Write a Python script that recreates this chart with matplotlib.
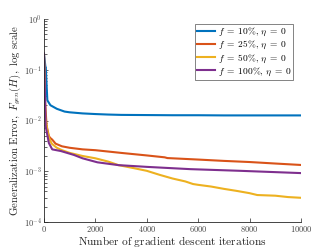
import numpy as np
import matplotlib
matplotlib.use("Agg")
import matplotlib.pyplot as plt
from matplotlib.ticker import FixedLocator, FuncFormatter, LogLocator, NullFormatter

plt.rcParams['mathtext.fontset'] = 'cm'
plt.rcParams['font.family'] = ['DejaVu Serif']

# ---- data ----
it_blue = [0, 60, 70, 130, 250, 500, 800, 1000, 1500, 2000, 2500, 3000, 4000, 5000, 6000, 7000, 8000, 9000, 10000]
f10 = [0.2, 0.11, 0.11, 0.025, 0.020, 0.017, 0.015, 0.0145, 0.0138, 0.0134, 0.0131, 0.0129, 0.0128, 0.0127, 0.0127, 0.0126, 0.0126, 0.0126, 0.0126]

it_red = [0, 50, 100, 190, 250, 320, 450, 700, 1000, 1500, 2000, 3000, 4000, 4700, 4800, 6000, 7000, 8000, 9000, 10000]
f25 = [0.2, 0.02, 0.008, 0.0049, 0.0045, 0.0042, 0.0035, 0.0031, 0.0029, 0.0027, 0.0026, 0.0023, 0.00205, 0.00188, 0.00182, 0.0017, 0.0016, 0.00152, 0.00142, 0.00133]

it_yel = [0, 50, 130, 200, 300, 500, 700, 1000, 1500, 2000, 2500, 2900, 3500, 4000, 4500, 5000, 5500, 5800, 6000, 6500, 7000, 7500, 8000, 8300, 9000, 9500, 10000]
f50 = [0.2, 0.012, 0.0062, 0.0045, 0.0035, 0.0029, 0.0026, 0.0023, 0.0020, 0.0018, 0.00155, 0.00132, 0.00115, 0.00102, 0.00085, 0.00072, 0.00063, 0.00056, 0.00054, 0.0005, 0.00045, 0.00041, 0.00037, 0.00034, 0.00033, 0.00031, 0.0003]

it_pur = [0, 65, 190, 320, 660, 1160, 1500, 2080, 2900, 4000, 5700, 7640, 10000]
f100 = [0.21, 0.0077, 0.0036, 0.0027, 0.0025, 0.0021, 0.0018, 0.0015, 0.00132, 0.00122, 0.0011, 0.00102, 0.00092]

labels = [r'$f\;=\;10\%,\,\eta\;=\;0$', r'$f\;=\;25\%,\,\eta\;=\;0$',
          r'$f\;=\;50\%,\,\eta\;=\;0$', r'$f\;=\;100\%,\,\eta\;=\;0$']
colors = ['#0072BD', '#D95319', '#EDB120', '#7E2F8E']
xticks = [0, 2000, 4000, 6000, 8000, 10000]
yticks = [1e-4, 1e-3, 1e-2, 1e-1, 1e0]

fig = plt.figure(figsize=(3.32, 2.49), dpi=100)
ax = fig.add_axes([0.1325, 0.1084, 0.774, 0.8153])

series = [(it_blue, f10), (it_red, f25), (it_yel, f50), (it_pur, f100)]
for (x, y), c, lab in zip(series, colors, labels):
    ax.plot(x, y, color=c, lw=1.5, label=lab)

ax.set_yscale('log')
ax.set_xlim(0, 10000)
ax.set_ylim(1e-4, 1e0)
ax.xaxis.set_major_locator(FixedLocator(xticks))
ax.yaxis.set_major_locator(FixedLocator(yticks))
ax.yaxis.set_minor_locator(LogLocator(base=10, subs=np.arange(2, 10)))
ax.yaxis.set_minor_formatter(NullFormatter())
ax.xaxis.set_major_formatter(FuncFormatter(lambda v, p: r'$\mathsf{%d}$' % int(v)))
ax.yaxis.set_major_formatter(FuncFormatter(lambda v, p: r'$\mathsf{10^{%d}}$' % int(round(np.log10(v)))))

for s in ['top', 'right']:
    ax.spines[s].set_visible(False)
for s in ['left', 'bottom']:
    ax.spines[s].set_color('#262626')
    ax.spines[s].set_linewidth(0.6)
ax.tick_params(which='both', direction='in', colors='#262626', labelcolor='#444444', labelsize=6.0, width=0.5)
ax.tick_params(which='major', length=3)
ax.tick_params(which='minor', length=1.8)
ax.tick_params(axis='x', pad=1.5)
ax.tick_params(axis='y', pad=1.5)

ax.set_xlabel(r'$\mathrm{Number\ of\ gradient\ descent\ iterations}$', fontsize=8.2, labelpad=0, color='#262626')
ax.set_ylabel(r'$\mathrm{Generalization\ Error,\ }F_{gen}(H)\mathrm{,\ log\ scale}$', fontsize=7.8, labelpad=0.5, color='#262626')

leg = ax.legend(loc='upper right', fontsize=6.8, frameon=True, fancybox=False,
                handlelength=1.9, handletextpad=0.3, borderpad=0.2, labelspacing=0.1,
                borderaxespad=0.0, bbox_to_anchor=(0.97, 0.975))
leg.get_frame().set_edgecolor('#262626')
leg.get_frame().set_linewidth(0.5)

fig.savefig('out.png', dpi=100)
